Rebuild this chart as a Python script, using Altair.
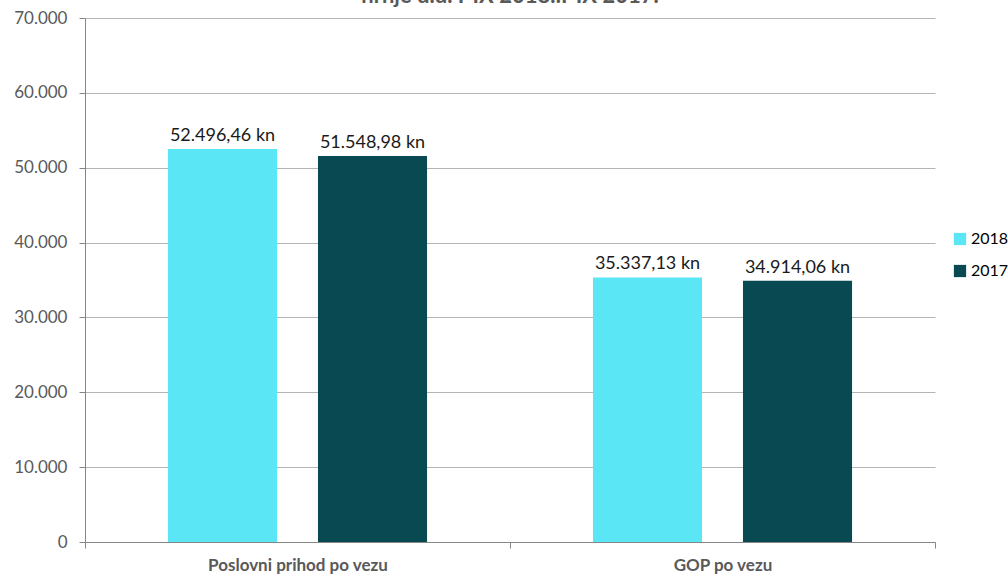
import altair as alt
import pandas as pd

categories = ["Poslovni prihod po vezu", "GOP po vezu"]
years = ["2018", "2017"]
values_2018 = [52496.46, 35337.13]
values_2017 = [51548.98, 34914.06]
y_ticks = [0, 10000, 20000, 30000, 40000, 50000, 60000, 70000]
colors = ["#5AE6F5", "#094A52"]
title_text = "hrnje d.d. I-IX 2018.:I-IX 2017."


def hr_fmt(v):
    s = f"{v:,.2f}"
    return s.replace(",", "X").replace(".", ",").replace("X", ".") + " kn"


rows = []
for i, c in enumerate(categories):
    for y, vals in zip(years, [values_2018, values_2017]):
        rows.append({"category": c, "year": y, "value": vals[i], "label": hr_fmt(vals[i])})
df = pd.DataFrame(rows)

FONT = "Lato"

x = alt.X(
    "category:N",
    sort=categories,
    scale=alt.Scale(paddingInner=0, paddingOuter=0),
    axis=alt.Axis(
        title=None,
        labelAngle=0,
        tickBand="extent",
        tickSize=6,
        tickColor="#868686",
        domainColor="#868686",
        labelFont=FONT,
        labelFontSize=17,
        labelFontWeight="bold",
        labelColor="#595959",
        labelPadding=9,
        labelLimit=400,
        grid=False,
    ),
)
xo = alt.XOffset("year:N", sort=years, scale=alt.Scale(paddingInner=0.273, paddingOuter=0.553))
y = alt.Y(
    "value:Q",
    scale=alt.Scale(domain=[0, 70000], nice=False),
    axis=alt.Axis(
        title=None,
        values=y_ticks,
        labelExpr="replace(format(datum.value, ','), ',', '.')",
        tickSize=6,
        tickColor="#868686",
        domainColor="#868686",
        gridColor="#B4B4B4",
        labelFont=FONT,
        labelFontSize=17,
        labelColor="#595959",
        labelPadding=12,
    ),
)

bars = alt.Chart(df).mark_bar().encode(
    x=x,
    xOffset=xo,
    y=y,
    color=alt.Color(
        "year:N",
        sort=years,
        scale=alt.Scale(domain=years, range=colors),
        legend=alt.Legend(
            title=None,
            orient="none",
            legendX=867,
            legendY=213,
            symbolType="square",
            symbolSize=150,
            symbolStrokeWidth=0,
            labelFont=FONT,
            labelFontSize=16,
            labelColor="#000000",
            rowPadding=16,
            labelOffset=3,
        ),
    ),
)

labels = alt.Chart(df).mark_text(
    baseline="bottom", dy=-4, fontSize=18, font=FONT, color="#1A1A1A"
).encode(x=x, xOffset=xo, y="value:Q", text="label:N")

chart = (
    alt.layer(bars, labels)
    .properties(
        width=850,
        height=524,
        autosize=alt.AutoSizeParams(type="none"),
        padding={"left": 85, "top": 18, "right": 73, "bottom": 37},
        title=alt.Title(
            title_text,
            font=FONT,
            fontSize=22,
            fontWeight="bold",
            color="#595959",
            offset=1,
            anchor="middle",
        ),
    )
    .configure_view(stroke=None)
)

chart.save("out.html", embed_options={"renderer": "svg", "actions": False})
